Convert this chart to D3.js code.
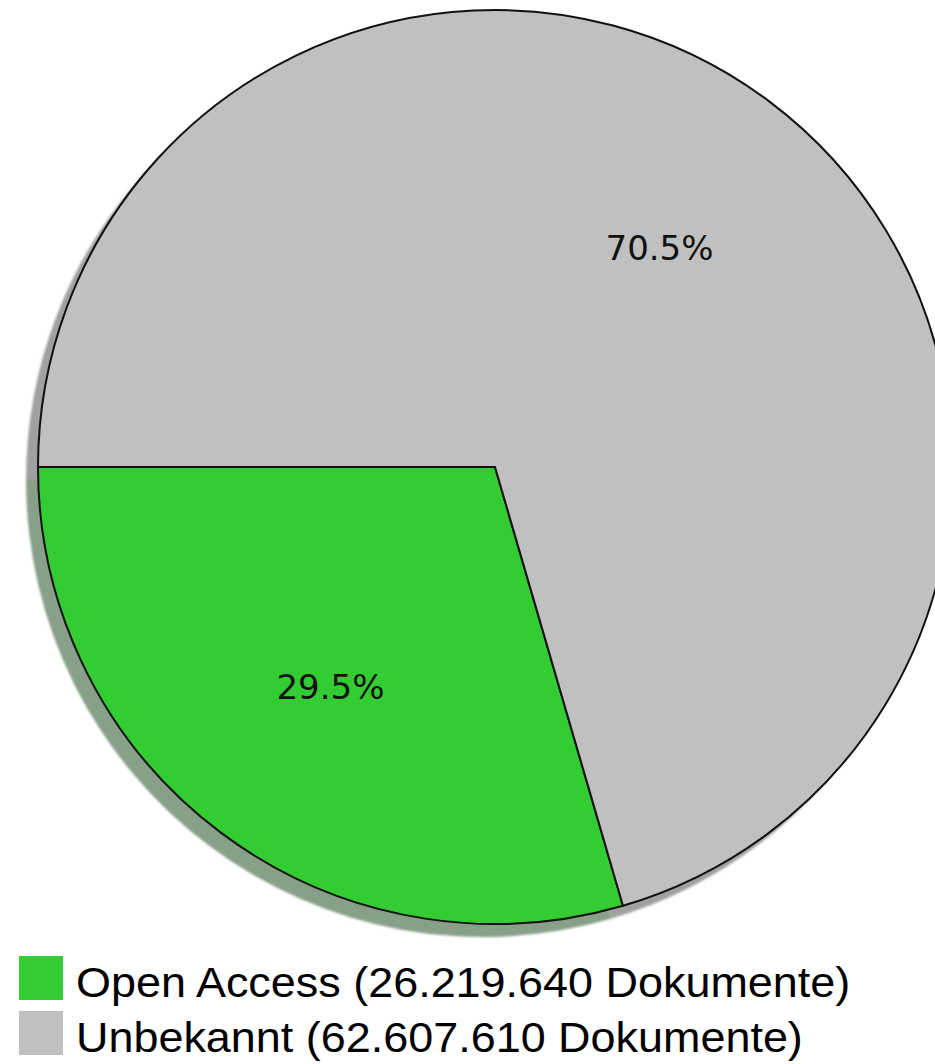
<!DOCTYPE html>
<html>
<head>
<meta charset="utf-8">
<script src="https://cdn.jsdelivr.net/npm/d3@7"></script>
<style>
  body { margin: 0; background: #fff; }
  svg { display: block; }
</style>
</head>
<body>
<div id="chart-area"></div>
<script>
/* data */
var categories = ["Open Access", "Unbekannt"];
var documents = [26219640, 62607610];
var colors = ["#33cc33", "#c0c0c0"];
var shadowColors = ["#88a088", "#a0a0a0"];

var width = 935;
var height = 1064;
var radius = 457;
var cx = 495, cy = 467;

var svg = d3.select("#chart-area")
    .append("svg")
    .attr("width", width)
    .attr("height", height);

var defs = svg.append("defs");
defs.append("filter")
    .attr("id", "soft")
    .append("feGaussianBlur")
    .attr("stdDeviation", 0.8);

var data = categories.map(function(c, i) {
    return { name: c, count: documents[i], color: colors[i], shadow: shadowColors[i] };
});
var total = d3.sum(documents);

/* first slice starts at 9 o'clock and runs counter-clockwise */
var pie = d3.pie()
    .value(function(d) { return d.count; })
    .sort(null)
    .startAngle(1.5 * Math.PI)
    .endAngle(-0.5 * Math.PI);

var arc = d3.arc().innerRadius(0).outerRadius(radius);
var labelArc = d3.arc().innerRadius(radius * 0.6).outerRadius(radius * 0.6);

var arcs = pie(data);

/* drop shadow */
svg.append("g")
    .attr("transform", "translate(" + (cx - 12) + "," + (cy + 13) + ")")
    .attr("filter", "url(#soft)")
    .selectAll("path")
    .data(arcs)
    .enter().append("path")
    .attr("d", arc)
    .attr("fill", function(d) { return d.data.shadow; });

var g = svg.append("g")
    .attr("transform", "translate(" + cx + "," + cy + ")");

g.selectAll("path.slice")
    .data(arcs)
    .enter().append("path")
    .attr("class", "slice")
    .attr("d", arc)
    .attr("fill", function(d) { return d.data.color; })
    .attr("stroke", "#111")
    .attr("stroke-width", 2)
    .attr("stroke-linejoin", "miter");

var pct = d3.format(".1f");
g.selectAll("text.pct")
    .data(arcs)
    .enter().append("text")
    .attr("class", "pct")
    .attr("transform", function(d) { return "translate(" + labelArc.centroid(d) + ")"; })
    .attr("text-anchor", "middle")
    .attr("dy", "0.36em")
    .attr("font-family", "DejaVu Sans")
    .attr("font-size", 34)
    .attr("fill", "#111")
    .text(function(d) { return pct(d.data.count / total * 100) + "%"; });

/* legend */
var fmt = d3.formatLocale({ decimal: ",", thousands: ".", grouping: [3], currency: ["", "€"] }).format(",");
var legend = svg.append("g").attr("transform", "translate(19,956)");
var item = legend.selectAll("g")
    .data(data)
    .enter().append("g")
    .attr("transform", function(d, i) { return "translate(0," + (i * 55) + ")"; });
item.append("rect")
    .attr("width", 44)
    .attr("height", 44)
    .attr("fill", function(d) { return d.color; });
item.append("text")
    .attr("transform", "translate(57,41) scale(1.07,1)")
    .attr("font-family", "Liberation Sans, Arial, sans-serif")
    .attr("font-size", 42)
    .attr("fill", "#000")
    .text(function(d) { return d.name + " (" + fmt(d.count) + " Dokumente)"; });
</script>
</body>
</html>
